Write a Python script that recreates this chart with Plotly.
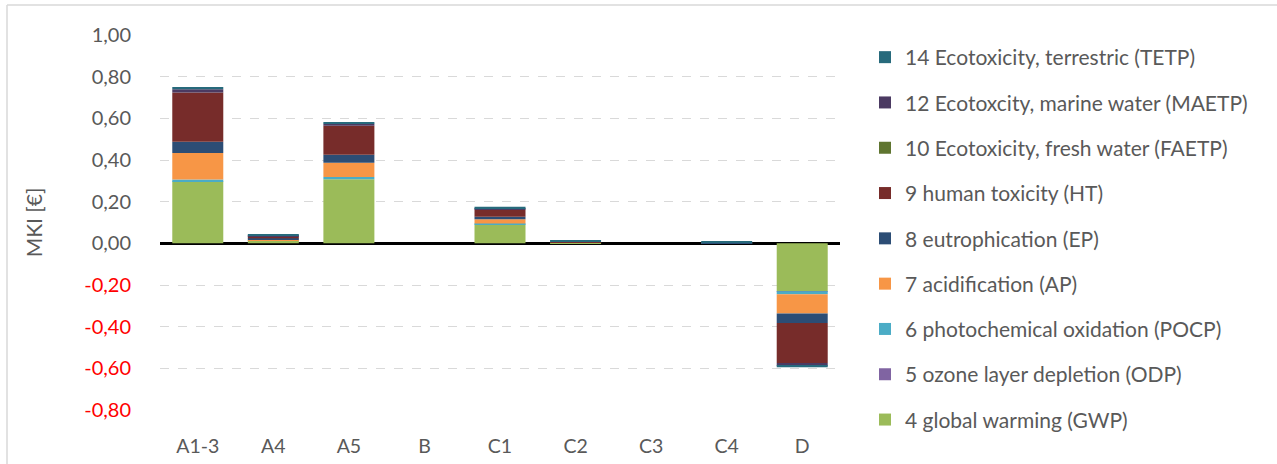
import plotly.graph_objects as go

categories = ["A1-3", "A4", "A5", "B", "C1", "C2", "C3", "C4", "D"]

gwp = [0.298, 0.012, 0.308, 0.0, 0.092, 0.002, 0.0, 0.001, -0.229]
odp = [0.0, 0.0, 0.0, 0.0, 0.0, 0.0, 0.0, 0.0, -0.001]
pocp = [0.008, 0.001, 0.010, 0.0, 0.003, 0.0, 0.0, 0.0, -0.014]
ap = [0.128, 0.003, 0.069, 0.0, 0.021, 0.001, 0.0, 0.0, -0.093]
ep = [0.054, 0.008, 0.038, 0.0, 0.011, 0.002, 0.0, 0.001, -0.045]
ht = [0.236, 0.010, 0.139, 0.0, 0.035, 0.001, 0.0, 0.001, -0.192]
faetp = [0.0, 0.0, 0.0, 0.0, 0.0, 0.0, 0.0, 0.0, 0.0]
maetp = [0.016, 0.003, 0.010, 0.0, 0.003, 0.0, 0.0, 0.0, -0.013]
tetp = [0.011, 0.006, 0.008, 0.0, 0.011, 0.010, 0.0, 0.004, -0.008]

series_names = [
    "4 global warming (GWP)",
    "5 ozone layer depletion (ODP)",
    "6 photochemical oxidation (POCP)",
    "7 acidification (AP)",
    "8 eutrophication (EP)",
    "9 human toxicity (HT)",
    "10 Ecotoxicity, fresh water (FAETP)",
    "12 Ecotoxcity, marine water (MAETP)",
    "14 Ecotoxicity, terrestric (TETP)",
]
series_values = [gwp, odp, pocp, ap, ep, ht, faetp, maetp, tetp]
series_colors = ["#9BBB59", "#8064A2", "#4BACC6", "#F79646", "#2C4D75",
                 "#772C2A", "#5F7530", "#4B3A62", "#276A7C"]

tick_vals = [1.0, 0.8, 0.6, 0.4, 0.2, 0.0, -0.2, -0.4, -0.6, -0.8]
tick_text = ["1,00", "0,80", "0,60", "0,40", "0,20", "0,00",
             "<span style='color:#FF0000'>-0,20</span>",
             "<span style='color:#FF0000'>-0,40</span>",
             "<span style='color:#FF0000'>-0,60</span>",
             "<span style='color:#FF0000'>-0,80</span>"]

FONT = "Lato, 'Open Sans', sans-serif"
GREY = "#595959"

fig = go.Figure()
n = len(series_names)
for i, (name, vals, col) in enumerate(zip(series_names, series_values, series_colors)):
    fig.add_trace(go.Bar(
        x=categories, y=vals, name=name, legendgroup=name,
        legendrank=100 + (n - i),
        marker=dict(color=col, line=dict(width=0)),
    ))

W, H = 1277, 464
L, R, T, B = 160, 840, 35, 410

fig.update_layout(
    width=W, height=H,
    barmode="relative", bargap=0.325,
    plot_bgcolor="white", paper_bgcolor="white",
    margin=dict(l=L, r=W - R, t=T, b=H - B, autoexpand=False),
    font=dict(family=FONT, color=GREY, size=20),
    showlegend=True,
    legend=dict(
        x=(865 - L) / (R - L), xanchor="left",
        y=(B - 37) / (B - T), yanchor="top",
        traceorder="grouped",
        tracegroupgap=15,
        maxheight=900,
        font=dict(family=FONT, size=21, color=GREY),
        bgcolor="rgba(0,0,0,0)",
    ),
    xaxis=dict(
        type="category",
        showgrid=False, showline=False, zeroline=False,
        ticks="outside", ticklen=19, tickcolor="rgba(0,0,0,0)",
        tickfont=dict(family=FONT, size=19.5, color=GREY),
    ),
    yaxis=dict(
        range=[-0.8, 1.0],
        tickvals=tick_vals, ticktext=tick_text,
        showgrid=True, gridcolor="#D9D9D9", gridwidth=1, griddash="dash",
        zeroline=True, zerolinecolor="#000000", zerolinewidth=2.5,
        showline=False,
        ticks="outside", ticklen=24, tickcolor="rgba(0,0,0,0)",
        tickfont=dict(family=FONT, size=20, color=GREY),
        title=dict(text="MKI [€]", font=dict(family=FONT, size=21, color=GREY), standoff=35),
    ),
    shapes=[
        dict(type="line", xref="paper", yref="paper",
             x0=(7 - L) / (R - L), x1=(W + 5 - L) / (R - L),
             y0=(B - 5) / (B - T), y1=(B - 5) / (B - T),
             line=dict(color="#D9D9D9", width=1.5)),
        dict(type="line", xref="paper", yref="paper",
             x0=(7 - L) / (R - L), x1=(7 - L) / (R - L),
             y0=(B - 5) / (B - T), y1=(B - H - 5) / (B - T),
             line=dict(color="#D9D9D9", width=1.5)),
    ],
)

fig.write_html("out.html", config={"displayModeBar": False},
               post_script="document.body.style.margin='0';")
